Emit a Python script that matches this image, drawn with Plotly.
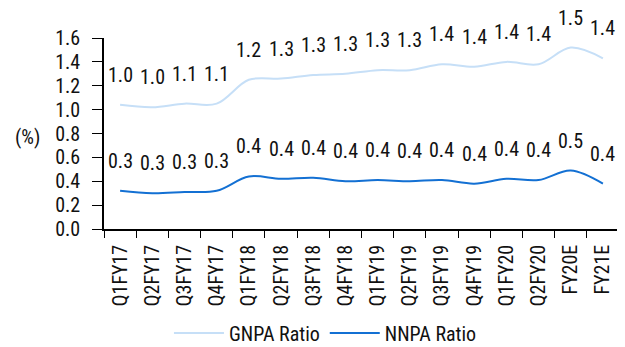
import plotly.graph_objects as go

categories = ["Q1FY17", "Q2FY17", "Q3FY17", "Q4FY17", "Q1FY18", "Q2FY18", "Q3FY18", "Q4FY18",
              "Q1FY19", "Q2FY19", "Q3FY19", "Q4FY19", "Q1FY20", "Q2FY20", "FY20E", "FY21E"]
gnpa = [1.04, 1.02, 1.05, 1.05, 1.25, 1.26, 1.29, 1.30, 1.33, 1.33, 1.38, 1.36, 1.40, 1.38, 1.52, 1.43]
nnpa = [0.32, 0.30, 0.31, 0.32, 0.44, 0.42, 0.43, 0.40, 0.41, 0.40, 0.41, 0.38, 0.42, 0.41, 0.49, 0.38]
y_ticks = [0.0, 0.2, 0.4, 0.6, 0.8, 1.0, 1.2, 1.4, 1.6]

FONT = "Liberation Sans Narrow, Arial Narrow, Roboto Condensed, Liberation Sans, sans-serif"
FS = 20
GCOL = "#c6dff7"
NCOL = "#1370d3"

fig = go.Figure()
fig.add_trace(go.Scatter(x=categories, y=gnpa, name="GNPA Ratio", mode="lines",
                         line=dict(color=GCOL, width=2, shape="spline", smoothing=1.0)))
fig.add_trace(go.Scatter(x=categories, y=nnpa, name="NNPA Ratio", mode="lines",
                         line=dict(color=NCOL, width=2, shape="spline", smoothing=1.0)))

annotations = []
for series in (gnpa, nnpa):
    for c, v in zip(categories, series):
        annotations.append(dict(x=c, y=v, text=f"{v:.1f}", showarrow=False, yshift=30,
                                font=dict(family=FONT, size=FS, color="#111111")))
annotations.append(dict(xref="paper", yref="paper", x=-0.12, y=0.48, text="(%)", showarrow=False,
                        xanchor="right", font=dict(family=FONT, size=FS, color="#111111")))

fig.update_layout(
    width=617, height=339,
    margin=dict(l=96, r=6, t=30, b=118, autoexpand=False),
    paper_bgcolor="white", plot_bgcolor="white",
    font=dict(family=FONT, size=FS, color="#111111"),
    showlegend=True,
    legend=dict(orientation="h", x=0.43, xanchor="center", y=-0.545, yanchor="middle",
                font=dict(family=FONT, size=FS), itemwidth=50, bgcolor="rgba(0,0,0,0)"),
    annotations=annotations,
    xaxis=dict(type="category", range=[-0.5, 15.5], tickangle=-90, showline=True, linecolor="black",
               linewidth=1.5, ticks="outside", tickson="boundaries", ticklen=7, tickcolor="black",
               ticklabelstandoff=6, automargin=False,
               showgrid=False, zeroline=False, tickfont=dict(family=FONT, size=FS)),
    yaxis=dict(range=[0, 1.6], tickvals=y_ticks, ticktext=[f"{t:.1f}" for t in y_ticks],
               showline=True, linecolor="black", linewidth=1.5, ticks="outside", ticklen=10,
               ticklabelstandoff=8, automargin=False,
               tickcolor="black", showgrid=False, zeroline=False, tickfont=dict(family=FONT, size=FS)),
)

fig.write_html("out.html")
